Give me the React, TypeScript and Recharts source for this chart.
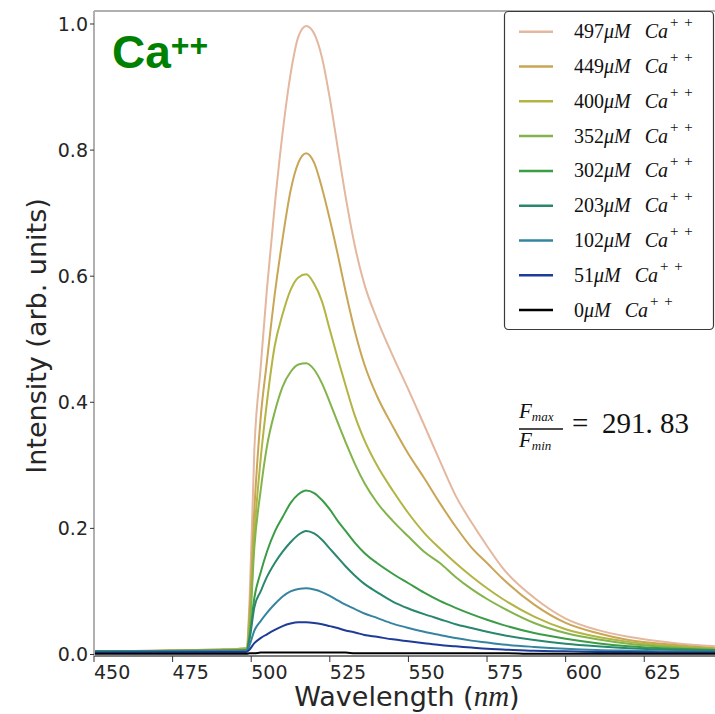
import { LineChart, Line, XAxis, YAxis, ReferenceLine } from "recharts";

// wavelength grid (nm) and intensity for each Ca++ concentration
const wavelength = [
  450, 490, 498.5, 499.5, 501, 503, 505, 507.5, 510, 512.5, 515, 517.5, 520,
  522.5, 525, 527.5, 530, 533, 536, 540, 545, 550, 555, 560, 565, 570, 575,
  580, 590, 600, 610, 620, 635, 647.5,
];

const ca497 = [
  0.005, 0.008, 0.01, 0.09, 0.325, 0.455, 0.58, 0.713, 0.828, 0.92, 0.98,
  0.997, 0.985, 0.947, 0.882, 0.804, 0.727, 0.647, 0.587, 0.532, 0.474, 0.42,
  0.364, 0.307, 0.252, 0.21, 0.172, 0.137, 0.09, 0.057, 0.039, 0.028, 0.018,
  0.013,
];
const ca449 = [
  0.005, 0.008, 0.01, 0.07, 0.23, 0.375, 0.465, 0.572, 0.66, 0.735, 0.78,
  0.795, 0.78, 0.74, 0.69, 0.635, 0.576, 0.512, 0.46, 0.41, 0.362, 0.318,
  0.28, 0.24, 0.203, 0.17, 0.145, 0.12, 0.079, 0.05, 0.034, 0.023, 0.015,
  0.01,
];
const ca400 = [
  0.005, 0.007, 0.009, 0.05, 0.19, 0.31, 0.4, 0.49, 0.54, 0.578, 0.598, 0.603,
  0.588, 0.56, 0.515, 0.47, 0.427, 0.378, 0.34, 0.3, 0.26, 0.224, 0.193,
  0.168, 0.145, 0.124, 0.105, 0.088, 0.06, 0.04, 0.028, 0.02, 0.013, 0.009,
];
const ca352 = [
  0.005, 0.007, 0.008, 0.04, 0.17, 0.26, 0.33, 0.385, 0.425, 0.448, 0.46,
  0.462, 0.452, 0.43, 0.4, 0.368, 0.337, 0.302, 0.272, 0.241, 0.212, 0.187,
  0.163, 0.145, 0.123, 0.104, 0.088, 0.074, 0.05, 0.034, 0.024, 0.017, 0.011,
  0.008,
];
const ca302 = [
  0.005, 0.006, 0.007, 0.03, 0.09, 0.13, 0.163, 0.195, 0.218, 0.24, 0.254,
  0.26, 0.256, 0.245, 0.23, 0.212, 0.196, 0.177, 0.161, 0.145, 0.128, 0.113,
  0.098, 0.085, 0.074, 0.064, 0.055, 0.047, 0.034, 0.025, 0.018, 0.013, 0.009,
  0.007,
];
const ca203 = [
  0.005, 0.006, 0.006, 0.025, 0.075, 0.1, 0.123, 0.145, 0.163, 0.178, 0.19,
  0.196, 0.192, 0.182, 0.168, 0.154, 0.14, 0.125, 0.112, 0.099, 0.084, 0.073,
  0.064, 0.056, 0.048, 0.042, 0.036, 0.031, 0.023, 0.017, 0.013, 0.01, 0.007,
  0.006,
];
const ca102 = [
  0.004, 0.005, 0.005, 0.015, 0.038, 0.053, 0.066, 0.08, 0.092, 0.1, 0.104,
  0.105, 0.103, 0.099, 0.093, 0.086, 0.079, 0.072, 0.065, 0.058, 0.049, 0.042,
  0.036, 0.031, 0.026, 0.022, 0.019, 0.016, 0.012, 0.009, 0.007, 0.006, 0.005,
  0.004,
];
const ca51 = [
  0.003, 0.004, 0.004, 0.008, 0.018, 0.026, 0.032, 0.039, 0.045, 0.049, 0.051,
  0.051, 0.05, 0.048, 0.045, 0.042, 0.038, 0.035, 0.031, 0.028, 0.024, 0.021,
  0.018, 0.015, 0.013, 0.011, 0.009, 0.008, 0.006, 0.005, 0.004, 0.004, 0.003,
  0.003,
];
const ca0 = [
  0.001, 0.001, 0.001, 0.002, 0.002, 0.003, 0.003, 0.003, 0.003, 0.003, 0.003,
  0.003, 0.003, 0.003, 0.003, 0.003, 0.003, 0.002, 0.002, 0.002, 0.002, 0.002,
  0.002, 0.002, 0.002, 0.002, 0.002, 0.002, 0.001, 0.001, 0.001, 0.001, 0.001,
  0.001,
];

const series = [
  { key: "c497", label: "497", color: "#e4b79f", values: ca497 },
  { key: "c449", label: "449", color: "#c9a655", values: ca449 },
  { key: "c400", label: "400", color: "#b2b443", values: ca400 },
  { key: "c352", label: "352", color: "#82b44b", values: ca352 },
  { key: "c302", label: "302", color: "#3b9c46", values: ca302 },
  { key: "c203", label: "203", color: "#28876d", values: ca203 },
  { key: "c102", label: "102", color: "#3585a0", values: ca102 },
  { key: "c51", label: "51", color: "#1d3b97", values: ca51 },
  { key: "c0", label: "0", color: "#000000", values: ca0 },
];

const xTicks = [450, 475, 500, 525, 550, 575, 600, 625];
const yTicks = [0, 0.2, 0.4, 0.6, 0.8, 1.0];
const ratioText = "291. 83";

const data = wavelength.map((nm, i) => {
  const row: Record<string, number> = { nm };
  series.forEach((s) => {
    row[s.key] = s.values[i];
  });
  return row;
});

const sans = "'DejaVu Sans', sans-serif";
const serif = "'Liberation Serif', 'DejaVu Serif', serif";
const ink = "#262626";

function XTick({ x, y, payload }: any) {
  return (
    <text x={x} y={y + 15} textAnchor="start" fontFamily={sans} fontSize={19} fill={ink}>
      {payload.value}
    </text>
  );
}

function Overlay() {
  return (
    <svg
      width={715}
      height={714}
      style={{ position: "absolute", left: 0, top: 0, pointerEvents: "none" }}
    >
      {/* panel tag */}
      <text x={112} y={68} fontFamily="'Liberation Sans', Arial, sans-serif" fontWeight="bold" fontSize={46} fill="#008000">
        Ca
        <tspan fontSize={32} dy={-12}>++</tspan>
      </text>

      {/* axis titles */}
      <text
        transform="translate(46,336) rotate(-90)"
        textAnchor="middle"
        fontFamily={sans}
        fontSize={27}
        fill={ink}
      >
        Intensity (arb. units)
      </text>
      <text x={407} y={706} textAnchor="middle" fontFamily={sans} fontSize={27} fill={ink}>
        Wavelength (
        <tspan fontFamily={serif} fontStyle="italic" fontSize={29}>nm</tspan>
        <tspan>)</tspan>
      </text>

      {/* legend */}
      <rect x={504.5} y={11.5} width={209} height={318} rx={4} fill="#fff" stroke="#3a3a3a" strokeWidth={1.2} />
      {series.map((s, i) => {
        const ry = 31.7 + i * 34.8;
        return (
          <g key={s.key}>
            <line x1={519} x2={553} y1={ry} y2={ry} stroke={s.color} strokeWidth={2.5} />
            <text x={574} y={ry + 6.5} fontFamily={serif} fontSize={20} fill="#111">
              <tspan>{s.label}</tspan>
              <tspan fontStyle="italic">μM</tspan>
              <tspan fontStyle="italic" dx={14}>Ca</tspan>
              <tspan fontSize={15} dx={2} dy={-11} letterSpacing={1}>+ +</tspan>
            </text>
          </g>
        );
      })}

      {/* Fmax / Fmin */}
      <text x={519} y={418} fontFamily={serif} fontStyle="italic" fontSize={21} fill="#111">
        F<tspan fontSize={13} dy={3}>max</tspan>
      </text>
      <line x1={519} x2={563} y1={429} y2={429} stroke="#111" strokeWidth={1.5} />
      <text x={519} y={447} fontFamily={serif} fontStyle="italic" fontSize={21} fill="#111">
        F<tspan fontSize={13} dy={3}>min</tspan>
      </text>
      <text x={572} y={433} fontFamily={serif} fontSize={29} fill="#111">=</text>
      <text x={602} y={433} fontFamily={serif} fontSize={29} fill="#111" style={{ whiteSpace: "pre" }}>
        {ratioText}
      </text>
    </svg>
  );
}

export default function App() {
  return (
    <div style={{ position: "absolute", left: 0, top: 0, width: 715, height: 714, background: "#fff" }}>
      <LineChart
        width={715}
        height={714}
        data={data}
        margin={{ top: 11, right: 0, bottom: 0, left: 0 }}
      >
        <XAxis
          dataKey="nm"
          type="number"
          domain={[450, 647.5]}
          ticks={xTicks}
          height={58}
          tick={(p: any) => <XTick {...p} />}
          tickSize={6}
          tickLine={{ stroke: "#333" }}
          axisLine={{ stroke: "#555", strokeWidth: 1.5 }}
          allowDataOverflow
        />
        <YAxis
          type="number"
          domain={[-0.0024, 1.0206]}
          ticks={yTicks}
          width={94}
          tickFormatter={(v: number) => v.toFixed(1)}
          tick={{ fill: ink, fontSize: 19, fontFamily: sans }}
          tickSize={4}
          tickLine={{ stroke: "#333" }}
          axisLine={{ stroke: "#b0b0b0", strokeWidth: 2 }}
          allowDataOverflow
        />
        <ReferenceLine y={1.0206} stroke="#b0b0b0" strokeWidth={2} ifOverflow="visible" />
        {series.map((s) => (
          <Line
            key={s.key}
            dataKey={s.key}
            type="monotone"
            stroke={s.color}
            strokeWidth={2}
            dot={false}
            activeDot={false}
            isAnimationActive={false}
          />
        ))}
      </LineChart>
      <Overlay />
    </div>
  );
}
